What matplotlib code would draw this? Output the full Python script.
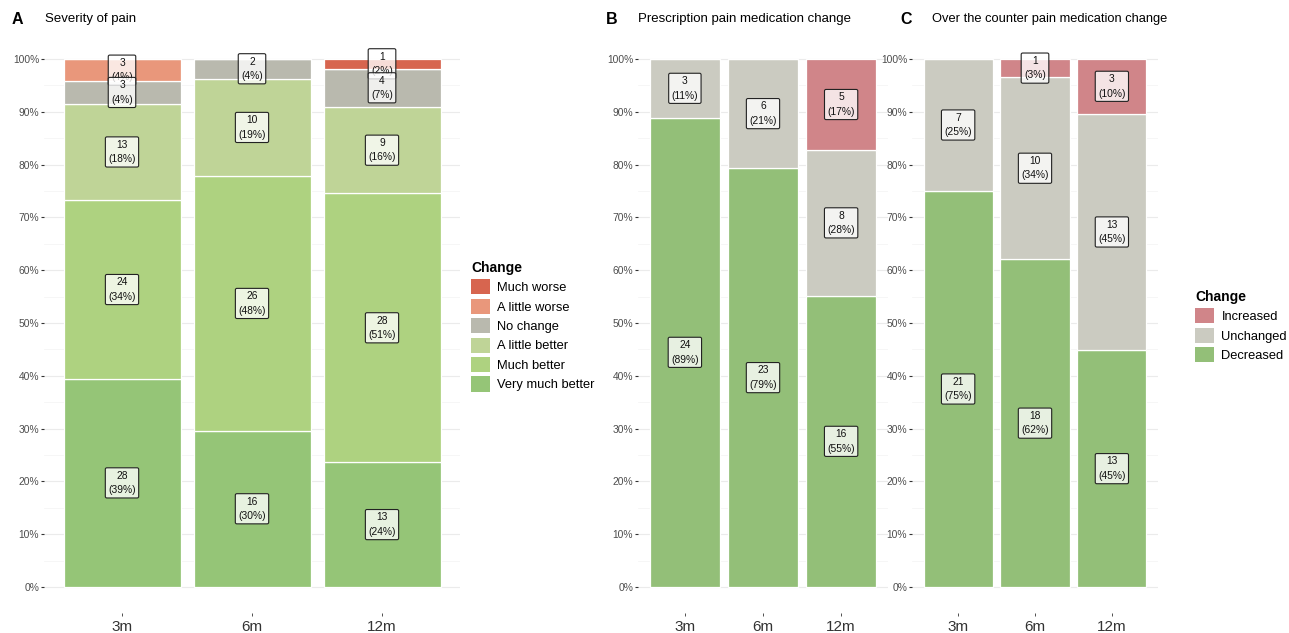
import numpy as np
import matplotlib.pyplot as plt
from matplotlib.patches import Patch

plt.rcParams['font.family'] = ['Liberation Sans', 'DejaVu Sans']

#%% data
times = ["3m", "6m", "12m"]

# panel A: severity of pain, counts per time point
sev_levels = ["Much worse", "A little worse", "No change",
              "A little better", "Much better", "Very much better"]
sev_much_worse = [0, 0, 1]
sev_little_worse = [3, 0, 0]
sev_no_change = [3, 2, 4]
sev_little_better = [13, 10, 9]
sev_much_better = [24, 26, 28]
sev_very_much_better = [28, 16, 13]
sev_colors = ["#d7654f", "#e9977b", "#b9b9ae", "#bfd497", "#aed280", "#95c577"]

# panels B and C: medication change
med_levels = ["Increased", "Unchanged", "Decreased"]
rx_increased = [0, 0, 5]
rx_unchanged = [3, 6, 8]
rx_decreased = [24, 23, 16]
otc_increased = [0, 1, 3]
otc_unchanged = [7, 10, 13]
otc_decreased = [21, 18, 13]
med_colors = ["#d08589", "#cbcbc1", "#93bf78"]

W, H = 1289, 633


def px_axes(fig, left, right, top, bottom):
    return fig.add_axes([left / W, 1 - bottom / H, (right - left) / W, (bottom - top) / H])


def stacked(ax, series, colors):
    # series ordered top category first
    x = np.arange(len(times))
    counts = np.array(series, dtype=float)
    totals = counts.sum(axis=0)
    props = counts / totals
    # stack from bottom category (last) upwards
    bottoms = np.zeros(len(times))
    starts = np.zeros_like(props)
    for i in range(len(series) - 1, -1, -1):
        ax.bar(x, props[i], 0.9, bottom=bottoms, color=colors[i],
               edgecolor="white", linewidth=0.9, zorder=2)
        starts[i] = bottoms
        bottoms = bottoms + props[i]
    # labels drawn in factor order (top category first)
    for i in range(len(series)):
        for j in range(len(times)):
            if counts[i, j] == 0:
                continue
            pct = int(np.floor(props[i, j] * 100 + 0.5))
            ax.text(x[j], starts[i, j] + props[i, j] / 2,
                    "%d\n(%d%%)" % (counts[i, j], pct),
                    ha="center", va="center", fontsize=7.4, color="#111111",
                    linespacing=1.55, zorder=5,
                    bbox=dict(boxstyle="round,pad=0.28,rounding_size=0.15",
                              fc=(1, 1, 1, 0.78), ec="#222222", lw=0.8))
    ax.set_xlim(-0.6, len(times) - 0.4)
    ax.set_ylim(-0.05, 1.05)
    ax.set_xticks(x)
    ax.set_xticklabels(times, fontsize=11, color="#333333")
    ax.set_yticks(np.arange(0, 1.01, 0.1))
    ax.set_yticklabels(["%d%%" % v for v in range(0, 101, 10)], fontsize=7.4, color="#4d4d4d")
    ax.set_yticks(np.arange(0.05, 1.0, 0.1), minor=True)
    ax.tick_params(axis="y", which="major", length=2.5, width=0.8, color="#333333", pad=1)
    ax.tick_params(axis="y", which="minor", length=0)
    ax.tick_params(axis="x", length=2.5, width=0.6, color="#333333", pad=2)
    ax.grid(axis="y", which="major", color="#ebebeb", linewidth=0.8, zorder=0)
    ax.grid(axis="y", which="minor", color="#f3f3f3", linewidth=0.5, zorder=0)
    for s in ax.spines.values():
        s.set_visible(False)


def legend(fig, ax, labels, colors, x, y):
    handles = [Patch(facecolor=c, edgecolor="none") for c in colors]
    leg = ax.legend(handles, labels, title="Change", loc="upper left",
                    bbox_to_anchor=(x / W, 1 - y / H), bbox_transform=fig.transFigure,
                    frameon=False, fontsize=9.3, title_fontproperties={"weight": "bold", "size": 10},
                    handlelength=1.45, handleheight=1.45, handletextpad=0.6,
                    labelspacing=0.32, borderaxespad=0, borderpad=0)
    leg._legend_box.align = "left"


fig = plt.figure(figsize=(W / 100, H / 100), dpi=100)

axA = px_axes(fig, 44, 460, 32.6, 613.4)
stacked(axA, [sev_much_worse, sev_little_worse, sev_no_change,
              sev_little_better, sev_much_better, sev_very_much_better], sev_colors)
legend(fig, axA, sev_levels, sev_colors, 471, 261)

axB = px_axes(fig, 638, 888, 32.6, 613.4)
stacked(axB, [rx_increased, rx_unchanged, rx_decreased], med_colors)

axC = px_axes(fig, 912, 1158, 32.6, 613.4)
stacked(axC, [otc_increased, otc_unchanged, otc_decreased], med_colors)
legend(fig, axC, med_levels, med_colors, 1195, 290)

# panel tags and titles
fig.text(12 / W, 1 - 19 / H, "A", fontsize=11.5, fontweight="bold", va="center")
fig.text(45 / W, 1 - 19 / H, "Severity of pain", fontsize=9.5, va="center")
fig.text(606 / W, 1 - 19 / H, "B", fontsize=11.5, fontweight="bold", va="center")
fig.text(638 / W, 1 - 19 / H, "Prescription pain medication change", fontsize=9.5, va="center")
fig.text(900 / W, 1 - 19 / H, "C", fontsize=11.5, fontweight="bold", va="center")
fig.text(932 / W, 1 - 19 / H, "Over the counter pain medication change", fontsize=9.3, va="center")

plt.savefig("out.png", dpi=100)
